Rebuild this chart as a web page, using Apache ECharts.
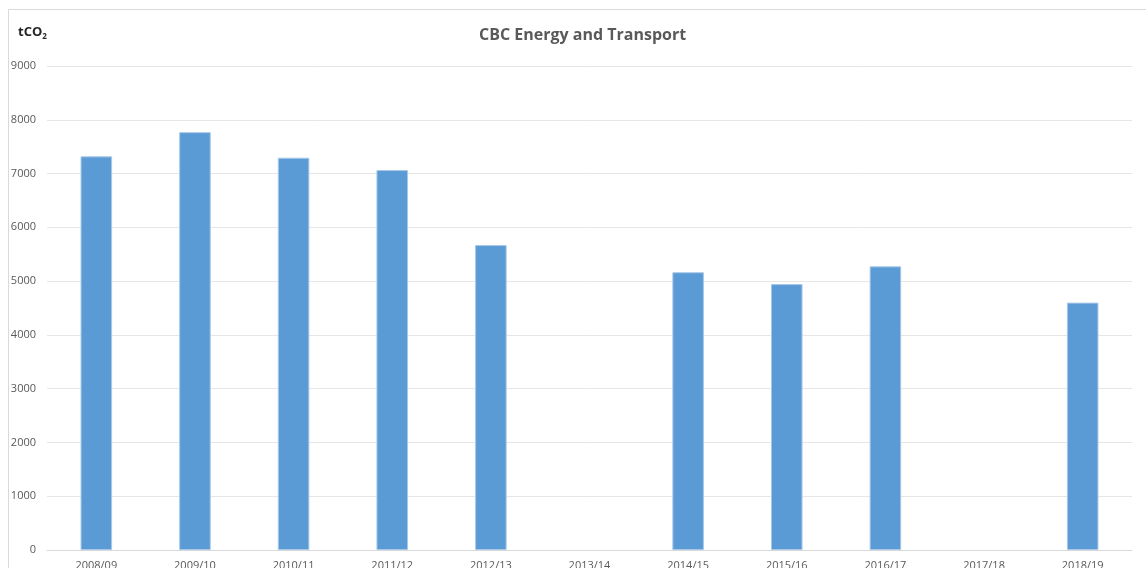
<!DOCTYPE html>
<html><head><meta charset="utf-8">
<script src="https://cdn.jsdelivr.net/npm/echarts@6/dist/echarts.min.js"></script>
<style>html,body{margin:0;padding:0;background:#fff}#c{width:1146px;height:568px}</style>
</head><body><div id="c"></div>
<script>
const categories = ['2008/09','2009/10','2010/11','2011/12','2012/13','2013/14','2014/15','2015/16','2016/17','2017/18','2018/19'];
const emissions = [7320, 7770, 7295, 7065, 5670, null, 5165, 4945, 5275, null, 4600];
const yTicks = {min: 0, max: 9000, interval: 1000};

const chart = echarts.init(document.getElementById('c'));
chart.setOption({
  animation: false,
  textStyle: {fontFamily: 'Open Sans'},
  title: {
    text: 'CBC Energy and Transport',
    left: 474, top: 22,
    textStyle: {fontSize: 16, fontWeight: 'bold', color: '#595959', fontFamily: 'Open Sans'}
  },
  graphic: [
    {type: 'rect', shape: {x: 8.5, y: 9.5, width: 1160, height: 600},
     style: {fill: 'none', stroke: '#d9d9d9', lineWidth: 1}, silent: true},
    {type: 'text', left: 18, top: 26,
     style: {text: '{a|tCO}{b|2}', rich: {
       a: {fontSize: 13, fontWeight: 'bold', fill: '#262626', fontFamily: 'Open Sans'},
       b: {fontSize: 8, fontWeight: 'bold', fill: '#262626', fontFamily: 'Open Sans', padding: [9, 0, 0, 0]}
     }}}
  ],
  grid: {left: 47, right: 14, top: 66, bottom: 18, containLabel: false, outerBoundsMode: 'none'},
  xAxis: {
    type: 'category', data: categories,
    axisLine: {lineStyle: {color: '#d9d9d9'}},
    axisTick: {show: false},
    axisLabel: {color: '#595959', fontSize: 11, margin: 10, interval: 0}
  },
  yAxis: {
    type: 'value', min: yTicks.min, max: yTicks.max, interval: yTicks.interval,
    axisLine: {show: false}, axisTick: {show: false},
    axisLabel: {color: '#595959', fontSize: 11, margin: 11, formatter: v => String(v)},
    splitLine: {lineStyle: {color: '#e6e6e6'}}
  },
  series: [{
    type: 'bar', data: emissions, barWidth: '32%',
    itemStyle: {color: '#5b9bd5', borderColor: '#a8c8e8', borderWidth: 1}
  }]
});
</script></body></html>
